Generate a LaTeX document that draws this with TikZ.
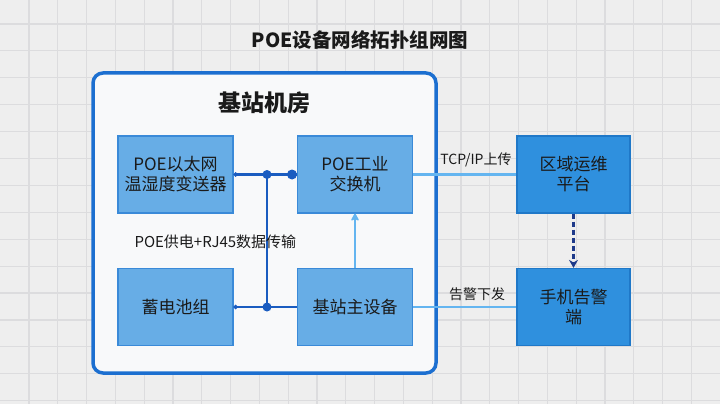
\documentclass[tikz,border=0pt]{standalone}
\usepackage{fontspec}
\setmainfont{Noto Sans CJK SC}
\usetikzlibrary{arrows.meta}

\definecolor{bggray}{HTML}{EEEEEE}
\definecolor{gridgray}{HTML}{DCDCDE}
\definecolor{roomblue}{HTML}{1C6FD0}
\definecolor{roomfill}{HTML}{F8F9FA}
\definecolor{boxfill}{HTML}{67ADE6}
\definecolor{boxedge}{HTML}{3A8AD8}
\definecolor{farfill}{HTML}{2F90DE}
\definecolor{faredge}{HTML}{1F78C8}
\definecolor{wireblue}{HTML}{1A5CC0}
\definecolor{linkblue}{HTML}{64B5F0}
\definecolor{navy}{HTML}{1E3A8A}
\definecolor{inkdark}{HTML}{1A1A1A}

\tikzset{
  unitbox/.style={rectangle, draw=boxedge, line width=1.2pt, fill=boxfill,
    minimum width=115pt, minimum height=77pt, align=center, text=inkdark,
    font=\fontsize{17}{20}\selectfont},
  farbox/.style={unitbox, draw=faredge, fill=farfill, minimum width=113pt},
  wire/.style={draw=wireblue, line width=2.5pt},
  link/.style={draw=linkblue, line width=2.2pt},
  tag/.style={text=inkdark, font=\fontsize{14}{16}\selectfont},
  joint/.style={circle, fill=wireblue, inner sep=0pt, minimum size=#1},
}

\begin{document}
\begin{tikzpicture}[x=1pt, y=-1pt]

  % background with grid
  \fill[bggray] (0,0) rectangle (720,404);
  \useasboundingbox (0,0) rectangle (720,404);
  \foreach \gx in {0,...,24} {
    \draw[gridgray, line width=1.2pt] ({29+28.8*\gx},0) -- ({29+28.8*\gx},404);
  }
  \foreach \gy in {0,...,14} {
    \draw[gridgray, line width=1.2pt] (0,{24+26.9*\gy}) -- (720,{24+26.9*\gy});
  }

  \node[text=inkdark, font=\fontsize{19.5}{22}\selectfont\bfseries] (title) at (360,40) {POE设备网络拓扑组网图};

  % machine room
  \draw[roomblue, fill=roomfill, line width=3.5pt, rounded corners=10pt] (93,73) rectangle (436,373);
  \node[text=inkdark, font=\fontsize{23}{26}\selectfont\bfseries] (room) at (264,103) {基站机房};

  \begin{scope}[every node/.style={unitbox}]
    \node (sensor)  at (175.5,174.5) {POE以太网\\温湿度变送器};
    \node (switch)  at (355,174.5)   {POE工业\\交换机};
    \node (battery) at (175.5,307)   {蓄电池组};
    \node (bts)     at (355,307)     {基站主设备};
  \end{scope}

  \begin{scope}[every node/.style={farbox}]
    \node (platform) at (573.5,174.5) {区域运维\\平台};
    \node (phone)    at (573.5,307)   {手机告警\\端};
  \end{scope}

  \coordinate (top)  at (267,174.5);
  \coordinate (low)  at (267,307);
  \coordinate (feed) at (292,174.5);

  % power + data bus
  \path[wire] (switch.west) -- (top);
  \path[wire, -{Circle[length=4pt]}] (top) -- (sensor.east);
  \path[wire] (top) -- (low);
  \path[wire, -{Circle[length=4pt]}] (bts.west) -- (battery.east);
  \node[joint=9pt] at (top) {};
  \node[joint=9pt] at (low) {};
  \node[joint=10pt] at (feed) {};

  \node[tag, anchor=west, font=\fontsize{15}{17}\selectfont] (bus) at (131,242) {POE供电+RJ45数据传输};

  % uplinks
  \path[link, -{Stealth[round, length=9pt, width=10pt]}] (bts.north) -- (switch.south);
  \path[link] (switch.east) -- (platform.west);
  \path[link] (bts.east) -- (phone.west);
  \node[tag] (up)    at (476,160) {TCP/IP上传};
  \node[tag] (alarm) at (477,294) {告警下发};

  \path[draw=navy, line width=2.5pt, dash pattern=on 5pt off 3pt, -{Stealth[length=8pt, width=9pt]}]
    (platform.south) -- (phone.north);

\end{tikzpicture}
\end{document}
